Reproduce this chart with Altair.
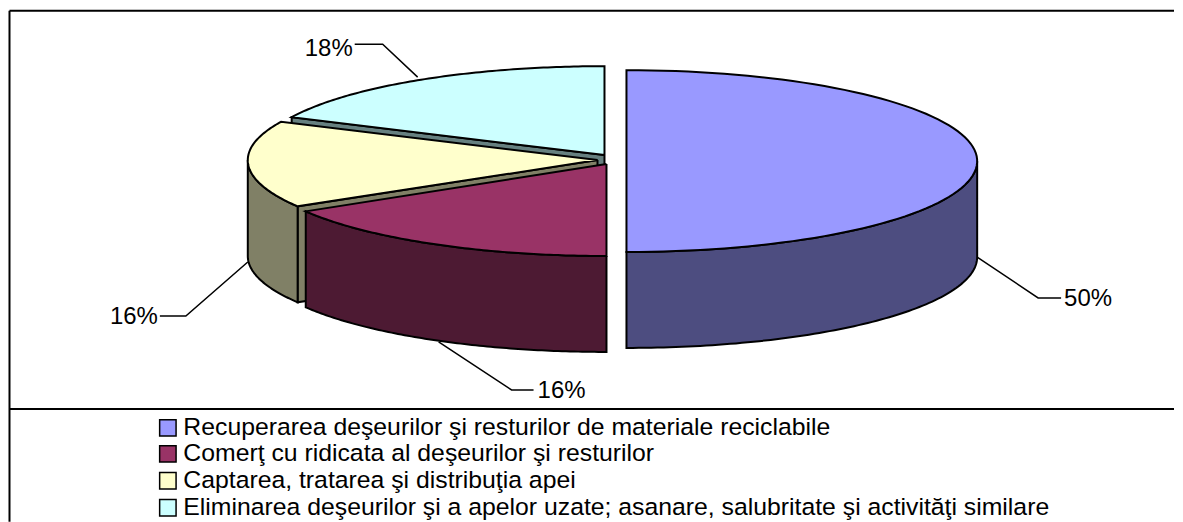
import numpy as np
import pandas as pd
import altair as alt

categories = [
    "Recuperarea deşeurilor şi resturilor de materiale reciclabile",
    "Comerţ cu ridicata al deşeurilor şi resturilor",
    "Captarea, tratarea şi distribuţia apei",
    "Eliminarea deşeurilor şi a apelor uzate; asanare, salubritate şi activităţi similare",
]
values = [50, 16.4, 15.6, 18]
labels = ["50%", "16%", "16%", "18%"]
top_colors = ["#9999FF", "#993366", "#FFFFCC", "#CCFFFF"]
side_colors = ["#4D4D80", "#4D1A33", "#808066", "#668080"]

W, H = 1167, 514
DEPTH = 96
FONT = "Liberation Sans"

# exploded slice geometry: centre x, centre y, radius x, radius y
slices = [(627, 161, 351, 91), (607, 164, 351, 92), (598, 160, 350, 90), (605, 155, 346, 89)]
# angles measured from 12 o'clock, clockwise, accumulated from the values
cum = np.cumsum([0] + values) / 100 * 360
ranges = [(cum[i], cum[i + 1]) for i in range(4)]


def pt(i, deg, drop=0.0):
    cx, cy, a, b = slices[i]
    t = np.radians(deg)
    return (cx + a * np.sin(t), cy - b * np.cos(t) + drop)


def arc(i, d0, d1, drop=0.0):
    return [pt(i, d, drop) for d in np.linspace(d0, d1, 90)]


def wedge(i):
    return [slices[i][:2]] + arc(i, *ranges[i])


def wall(i, d0, d1):
    return arc(i, d0, d1) + arc(i, d1, d0, DEPTH)


def cut(i, deg):
    apex = slices[i][:2]
    c = pt(i, deg)
    return [apex, c, (c[0], c[1] + DEPTH), (apex[0], apex[1] + DEPTH)]


def band(poly):
    """Vertical extent of a polygon at each of its vertex x positions."""
    p = poly + [poly[0]]
    rows = []
    for x in sorted({round(q[0], 3) for q in poly}):
        ys = []
        for (x0, y0), (x1, y1) in zip(p[:-1], p[1:]):
            if abs(x1 - x0) < 1e-6:
                if abs(x0 - x) < 1e-2:
                    ys += [y0, y1]
            elif min(x0, x1) - 1e-2 <= x <= max(x0, x1) + 1e-2:
                ys.append(y0 + (y1 - y0) * (x - x0) / (x1 - x0))
        rows.append({"x": x, "y": min(ys), "y2": max(ys)})
    return pd.DataFrame(rows)


X = alt.X("x:Q", scale=alt.Scale(domain=[8, 8 + W]), axis=None)
Y = alt.Y("y:Q", scale=alt.Scale(domain=[8 + H, 8]), axis=None)


def piece(poly, color):
    outline = pd.DataFrame(
        [{"x": q[0], "y": q[1], "i": n} for n, q in enumerate(poly + [poly[0]])]
    )
    area = alt.Chart(band(poly)).mark_area(color=color, opacity=1).encode(X, Y, y2="y2:Q")
    line = alt.Chart(outline).mark_line(color="black", strokeWidth=2).encode(X, Y, order="i:Q")
    return [area, line]


layers = []
# frame
frame_h = pd.DataFrame({"x": [9.5, 9.5], "x2": [1175, 1175], "y": [10.5, 409]})
frame_v = pd.DataFrame({"x": [9.5], "y": [10.5], "y2": [522]})
layers.append(alt.Chart(frame_h).mark_rule(color="black", strokeWidth=2).encode(X, alt.X2("x2:Q"), Y))
layers.append(alt.Chart(frame_v).mark_rule(color="black", strokeWidth=2).encode(X, Y, alt.Y2("y2:Q")))

# paint back to front
layers += piece(cut(3, ranges[3][0]), side_colors[3])
layers += piece(wedge(3), top_colors[3])
layers += piece(cut(2, ranges[2][0]), side_colors[2])
layers += piece(wall(2, ranges[2][0], 270), side_colors[2])
layers += piece(wedge(2), top_colors[2])
layers += piece(wall(1, *ranges[1]), side_colors[1])
layers += piece(wedge(1), top_colors[1])
layers += piece(wall(0, 90, 180), side_colors[0])
layers += piece(wedge(0), top_colors[0])

# leader lines and value labels
leaders = pd.DataFrame(
    [
        {"s": 0, "i": 0, "x": 978, "y": 257}, {"s": 0, "i": 1, "x": 1039, "y": 298}, {"s": 0, "i": 2, "x": 1062, "y": 298},
        {"s": 1, "i": 0, "x": 439, "y": 342}, {"s": 1, "i": 1, "x": 512, "y": 390}, {"s": 1, "i": 2, "x": 534, "y": 390},
        {"s": 2, "i": 0, "x": 248, "y": 262}, {"s": 2, "i": 1, "x": 186, "y": 316}, {"s": 2, "i": 2, "x": 160, "y": 316},
        {"s": 3, "i": 0, "x": 418, "y": 77}, {"s": 3, "i": 1, "x": 383, "y": 44}, {"s": 3, "i": 2, "x": 355, "y": 44},
    ]
)
layers.append(
    alt.Chart(leaders).mark_line(color="black", strokeWidth=1.5).encode(X, Y, detail="s:N", order="i:Q")
)
pct = pd.DataFrame({"x": [1065, 538, 110, 305], "y": [299, 391, 317, 49], "t": labels})
layers.append(
    alt.Chart(pct).mark_text(align="left", baseline="middle", font=FONT, fontSize=24, color="black").encode(X, Y, text="t:N")
)

# legend
leg = pd.DataFrame(
    {"x": [168] * 4, "tx": [183.5] * 4, "y": [428, 454, 481, 508], "t": categories, "c": top_colors}
)
layers.append(
    alt.Chart(leg).mark_point(shape="square", filled=True, size=270, stroke="black", strokeWidth=1.5, opacity=1).encode(
        X, Y, fill=alt.Color("c:N", scale=None)
    )
)
layers.append(
    alt.Chart(leg).mark_text(align="left", baseline="middle", font=FONT, fontSize=24.8, color="black").encode(
        alt.X("tx:Q", scale=alt.Scale(domain=[8, 8 + W]), axis=None), Y, text="t:N"
    )
)

chart = (
    alt.layer(*layers)
    .properties(width=W, height=H, padding=0, background="white")
    .configure_view(stroke=None)
)
chart.save("out.html", embed_options={"renderer": "svg", "actions": False})
